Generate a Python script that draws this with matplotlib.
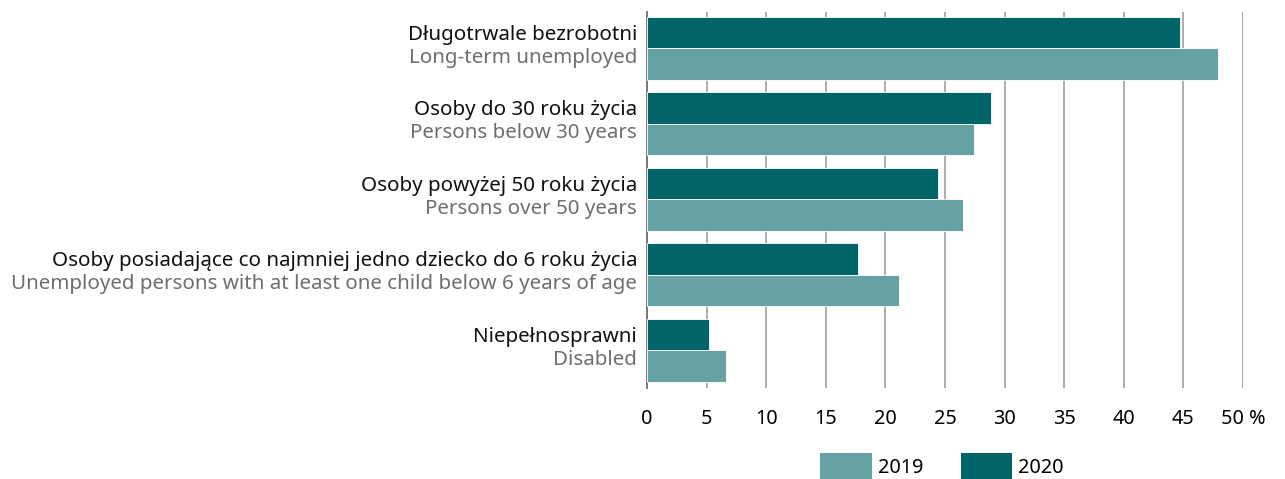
import numpy as np
import matplotlib
matplotlib.use('Agg')
import matplotlib.pyplot as plt
from matplotlib.patches import Patch

plt.rcParams['font.family'] = ['Noto Sans', 'DejaVu Sans']

# data (%)
labels_pl = ['Długotrwale bezrobotni',
             'Osoby do 30 roku życia',
             'Osoby powyżej 50 roku życia',
             'Osoby posiadające co najmniej jedno dziecko do 6 roku życia',
             'Niepełnosprawni']
labels_en = ['Long-term unemployed',
             'Persons below 30 years',
             'Persons over 50 years',
             'Unemployed persons with at least one child below 6 years of age',
             'Disabled']
vals_2019 = [47.9, 27.4, 26.5, 21.1, 6.6]
vals_2020 = [44.7, 28.9, 24.4, 17.7, 5.2]
xticks = [0, 5, 10, 15, 20, 25, 30, 35, 40, 45, 50]
xticklabels = ['0', '5', '10', '15', '20', '25', '30', '35', '40', '45', '50 %']

c2019 = '#66a1a4'
c2020 = '#006469'

fig = plt.figure(figsize=(12.85, 4.79), dpi=100)
ax = fig.add_axes([647/1285, 1 - 388/479, 596/1285, 376/479])

y = np.arange(len(labels_pl))
h = 0.415
ax.barh(y - h/2, vals_2020, height=h, color=c2020, edgecolor='white', linewidth=0.6, zorder=3)
ax.barh(y + h/2, vals_2019, height=h, color=c2019, edgecolor='white', linewidth=0.6, zorder=3)

ax.set_xlim(0, 50)
ax.set_ylim(4.5, -0.48)
ax.set_xticks(xticks)
ax.set_xticklabels(xticklabels, fontsize=14.3)
ax.tick_params(axis='x', length=0, pad=15)
ax.set_yticks([])
ax.grid(axis='x', color='#a0a0a0', linewidth=1.2, zorder=0)
for s in ['top', 'right', 'bottom']:
    ax.spines[s].set_visible(False)
ax.spines['left'].set_color('#707070')
ax.spines['left'].set_linewidth(1.3)

# two-line category labels
for i in range(len(labels_pl)):
    ax.text(-10/596*50, i - 0.113, labels_pl[i], ha='right', va='baseline',
            fontsize=14.8, color='#111111')
    ax.text(-10/596*50, i + 0.19, labels_en[i], ha='right', va='baseline',
            fontsize=14.8, color='#6e6e6e')

handles = [Patch(facecolor=c2019), Patch(facecolor=c2020)]
fig.legend(handles, ['2019', '2020'], loc='upper left',
           bbox_to_anchor=(820/1285, 1 - 453/479), frameon=False,
           fontsize=14.3, borderpad=0, handlelength=2.6, handleheight=1.8,
           handletextpad=0.3, columnspacing=1.9, ncol=2, borderaxespad=0)

fig.savefig('out.png', dpi=100)
